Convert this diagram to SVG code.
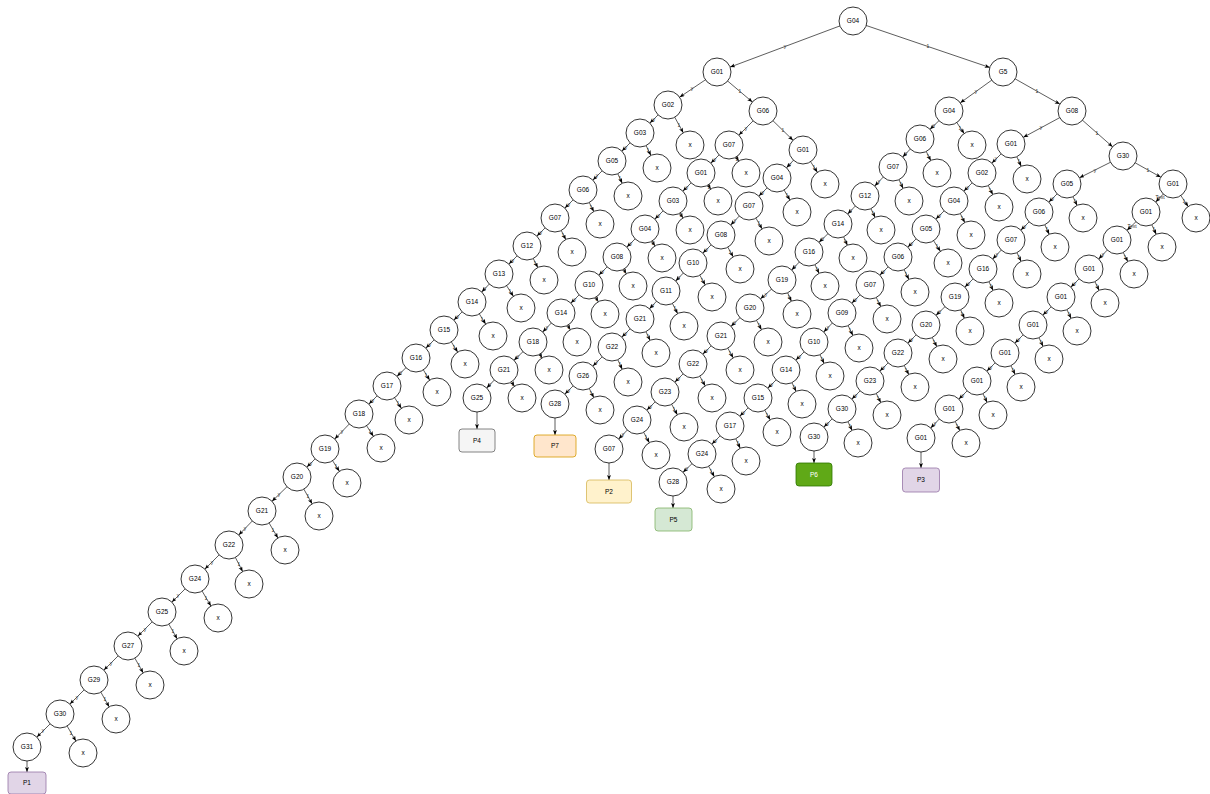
<svg xmlns="http://www.w3.org/2000/svg" width="1210" height="794" viewBox="0 0 1210 794">
<style>
.c{fill:#fff;stroke:#000;stroke-width:0.8}
.t{font-family:"Liberation Sans",Arial,sans-serif;font-size:6.5px;text-anchor:middle;fill:#000}
.e{stroke:#333;stroke-width:0.8;fill:none;marker-end:url(#a)}
.ep{stroke:#333;stroke-width:0.8;fill:none;marker-end:url(#ap)}
.l{font-family:"Liberation Sans",Arial,sans-serif;font-size:5px;text-anchor:middle;fill:#333}
.p{stroke-width:0.8}
</style>
<defs>
<marker id="a" markerUnits="userSpaceOnUse" markerWidth="6" markerHeight="5" refX="19" refY="2" orient="auto"><path d="M0,0 L5,2 L0,4 L1.2,2 z" fill="#000"/></marker>
<marker id="ap" markerUnits="userSpaceOnUse" markerWidth="6" markerHeight="5" refX="5" refY="2" orient="auto"><path d="M0,0 L5,2 L0,4 L1.2,2 z" fill="#000"/></marker>
</defs>
<rect width="1210" height="794" fill="#fff"/>
<g id="connectors">
<line class="e" x1="853" y1="21" x2="717" y2="72"/><text class="l" x="785" y="48">y</text>
<line class="e" x1="853" y1="21" x2="1003" y2="72"/><text class="l" x="928" y="48">1</text>
<line class="e" x1="717" y1="72" x2="668" y2="105"/><text class="l" x="692" y="90">y</text>
<line class="e" x1="717" y1="72" x2="763" y2="111"/><text class="l" x="740" y="93">1</text>
<line class="e" x1="668" y1="105" x2="640" y2="133"/><text class="l" x="654" y="121">y</text>
<line class="e" x1="668" y1="105" x2="690" y2="145"/><text class="l" x="679" y="127">1</text>
<line class="e" x1="763" y1="111" x2="729" y2="145"/><text class="l" x="746" y="130">y</text>
<line class="e" x1="763" y1="111" x2="803" y2="150"/><text class="l" x="783" y="132">1</text>
<line class="e" x1="729" y1="145" x2="701" y2="173"/><text class="l" x="715" y="161">y</text>
<line class="e" x1="729" y1="145" x2="746" y2="173"/><text class="l" x="737" y="161">1</text>
<line class="e" x1="1003" y1="72" x2="949" y2="111"/><text class="l" x="976" y="93">y</text>
<line class="e" x1="1003" y1="72" x2="1072" y2="111"/><text class="l" x="1037" y="93">1</text>
<line class="e" x1="949" y1="111" x2="920" y2="139"/><text class="l" x="934" y="127">y</text>
<line class="e" x1="949" y1="111" x2="972" y2="145"/><text class="l" x="960" y="130">1</text>
<line class="e" x1="1072" y1="111" x2="1011" y2="144"/><text class="l" x="1041" y="129">y</text>
<line class="e" x1="1072" y1="111" x2="1123" y2="156"/><text class="l" x="1097" y="135">1</text>
<line class="e" x1="1011" y1="144" x2="982" y2="173"/><text class="l" x="996" y="160">y</text>
<line class="e" x1="1011" y1="144" x2="1027" y2="179"/><text class="l" x="1019" y="163">1</text>
<line class="e" x1="1123" y1="156" x2="1067" y2="184"/><text class="l" x="1095" y="172">y</text>
<line class="e" x1="1123" y1="156" x2="1173" y2="184"/><text class="l" x="1148" y="172">1</text>
<line class="e" x1="1067" y1="184" x2="1039" y2="212"/><text class="l" x="1053" y="200">y</text>
<line class="e" x1="1067" y1="184" x2="1083" y2="218"/><text class="l" x="1075" y="203">1</text>
<!-- chain A -->
<line class="e" x1="640" y1="133" x2="612" y2="161"/><text class="l" x="626" y="149">y</text>
<line class="e" x1="612" y1="161" x2="583" y2="190"/><text class="l" x="597" y="177">y</text>
<line class="e" x1="583" y1="190" x2="555" y2="218"/><text class="l" x="569" y="206">y</text>
<line class="e" x1="555" y1="218" x2="527" y2="246"/><text class="l" x="541" y="234">y</text>
<line class="e" x1="527" y1="246" x2="499" y2="274"/><text class="l" x="513" y="262">y</text>
<line class="e" x1="499" y1="274" x2="472" y2="302"/><text class="l" x="485" y="290">y</text>
<line class="e" x1="472" y1="302" x2="444" y2="330"/><text class="l" x="458" y="318">y</text>
<line class="e" x1="444" y1="330" x2="416" y2="358"/><text class="l" x="430" y="346">y</text>
<line class="e" x1="416" y1="358" x2="387" y2="386"/><text class="l" x="401" y="374">y</text>
<line class="e" x1="387" y1="386" x2="359" y2="414"/><text class="l" x="373" y="402">y</text>
<line class="e" x1="359" y1="414" x2="325" y2="449"/><text class="l" x="342" y="433">y</text>
<line class="e" x1="325" y1="449" x2="297" y2="477"/><text class="l" x="311" y="465">y</text>
<line class="e" x1="297" y1="477" x2="262" y2="511"/><text class="l" x="279" y="496">y</text>
<line class="e" x1="262" y1="511" x2="229" y2="545"/><text class="l" x="245" y="530">y</text>
<line class="e" x1="229" y1="545" x2="195" y2="579"/><text class="l" x="212" y="564">y</text>
<line class="e" x1="195" y1="579" x2="162" y2="612"/><text class="l" x="178" y="597">y</text>
<line class="e" x1="162" y1="612" x2="128" y2="646"/><text class="l" x="145" y="631">y</text>
<line class="e" x1="128" y1="646" x2="94" y2="680"/><text class="l" x="111" y="665">y</text>
<line class="e" x1="94" y1="680" x2="60" y2="714"/><text class="l" x="77" y="699">y</text>
<line class="e" x1="60" y1="714" x2="27" y2="747"/><text class="l" x="43" y="732">y</text>
<line class="ep" x1="27" y1="761" x2="27" y2="772"/>
<line class="e" x1="640" y1="133" x2="657" y2="168"/><text class="l" x="648" y="152">1</text>
<line class="e" x1="612" y1="161" x2="628" y2="196"/><text class="l" x="620" y="180">1</text>
<line class="e" x1="583" y1="190" x2="600" y2="224"/><text class="l" x="591" y="209">1</text>
<line class="e" x1="555" y1="218" x2="572" y2="252"/><text class="l" x="563" y="237">1</text>
<line class="e" x1="527" y1="246" x2="544" y2="280"/><text class="l" x="535" y="265">1</text>
<line class="e" x1="499" y1="274" x2="521" y2="308"/><text class="l" x="510" y="293">1</text>
<line class="e" x1="472" y1="302" x2="493" y2="336"/><text class="l" x="482" y="321">1</text>
<line class="e" x1="444" y1="330" x2="465" y2="364"/><text class="l" x="454" y="349">1</text>
<line class="e" x1="416" y1="358" x2="437" y2="392"/><text class="l" x="426" y="377">1</text>
<line class="e" x1="387" y1="386" x2="409" y2="420"/><text class="l" x="398" y="405">1</text>
<line class="e" x1="359" y1="414" x2="381" y2="448"/><text class="l" x="370" y="433">1</text>
<line class="e" x1="325" y1="449" x2="347" y2="483"/><text class="l" x="336" y="468">1</text>
<line class="e" x1="297" y1="477" x2="319" y2="516"/><text class="l" x="308" y="498">1</text>
<line class="e" x1="262" y1="511" x2="285" y2="550"/><text class="l" x="273" y="532">1</text>
<line class="e" x1="229" y1="545" x2="249" y2="584"/><text class="l" x="239" y="566">1</text>
<line class="e" x1="195" y1="579" x2="218" y2="618"/><text class="l" x="206" y="600">1</text>
<line class="e" x1="162" y1="612" x2="184" y2="651"/><text class="l" x="173" y="633">1</text>
<line class="e" x1="128" y1="646" x2="150" y2="685"/><text class="l" x="139" y="667">1</text>
<line class="e" x1="94" y1="680" x2="116" y2="719"/><text class="l" x="105" y="701">1</text>
<line class="e" x1="60" y1="714" x2="83" y2="753"/><text class="l" x="71" y="735">1</text>
<!-- chain B -->
<line class="e" x1="701" y1="173" x2="673" y2="201"/><text class="l" x="687" y="189">y</text>
<line class="e" x1="673" y1="201" x2="645" y2="229"/><text class="l" x="659" y="217">y</text>
<line class="e" x1="645" y1="229" x2="617" y2="257"/><text class="l" x="631" y="245">y</text>
<line class="e" x1="617" y1="257" x2="589" y2="285"/><text class="l" x="603" y="273">y</text>
<line class="e" x1="589" y1="285" x2="561" y2="313"/><text class="l" x="575" y="301">y</text>
<line class="e" x1="561" y1="313" x2="533" y2="342"/><text class="l" x="547" y="329">y</text>
<line class="e" x1="533" y1="342" x2="504" y2="370"/><text class="l" x="518" y="358">y</text>
<line class="e" x1="504" y1="370" x2="477" y2="398"/><text class="l" x="490" y="386">y</text>
<line class="ep" x1="477" y1="412" x2="477" y2="429"/>
<line class="e" x1="701" y1="173" x2="718" y2="201"/><text class="l" x="709" y="189">1</text>
<line class="e" x1="673" y1="201" x2="690" y2="230"/><text class="l" x="681" y="217">1</text>
<line class="e" x1="645" y1="229" x2="662" y2="258"/><text class="l" x="653" y="245">1</text>
<line class="e" x1="617" y1="257" x2="633" y2="286"/><text class="l" x="625" y="273">1</text>
<line class="e" x1="589" y1="285" x2="605" y2="314"/><text class="l" x="597" y="301">1</text>
<line class="e" x1="561" y1="313" x2="577" y2="342"/><text class="l" x="569" y="329">1</text>
<line class="e" x1="533" y1="342" x2="549" y2="370"/><text class="l" x="541" y="358">1</text>
<line class="e" x1="504" y1="370" x2="522" y2="398"/><text class="l" x="513" y="386">1</text>
<!-- chain C -->
<line class="e" x1="803" y1="150" x2="777" y2="178"/><text class="l" x="790" y="166">y</text>
<line class="e" x1="777" y1="178" x2="749" y2="206"/><text class="l" x="763" y="194">y</text>
<line class="e" x1="749" y1="206" x2="721" y2="235"/><text class="l" x="735" y="222">y</text>
<line class="e" x1="721" y1="235" x2="693" y2="263"/><text class="l" x="707" y="251">y</text>
<line class="e" x1="693" y1="263" x2="666" y2="291"/><text class="l" x="679" y="279">y</text>
<line class="e" x1="666" y1="291" x2="640" y2="319"/><text class="l" x="653" y="307">y</text>
<line class="e" x1="640" y1="319" x2="612" y2="347"/><text class="l" x="626" y="335">y</text>
<line class="e" x1="612" y1="347" x2="583" y2="376"/><text class="l" x="597" y="363">y</text>
<line class="e" x1="583" y1="376" x2="555" y2="404"/><text class="l" x="569" y="392">y</text>
<line class="ep" x1="555" y1="418" x2="555" y2="435"/>
<line class="e" x1="803" y1="150" x2="825" y2="184"/><text class="l" x="814" y="169">1</text>
<line class="e" x1="777" y1="178" x2="797" y2="212"/><text class="l" x="787" y="197">1</text>
<line class="e" x1="749" y1="206" x2="769" y2="241"/><text class="l" x="759" y="225">1</text>
<line class="e" x1="721" y1="235" x2="740" y2="269"/><text class="l" x="730" y="254">1</text>
<line class="e" x1="693" y1="263" x2="712" y2="297"/><text class="l" x="702" y="282">1</text>
<line class="e" x1="666" y1="291" x2="684" y2="326"/><text class="l" x="675" y="310">1</text>
<line class="e" x1="640" y1="319" x2="656" y2="353"/><text class="l" x="648" y="338">1</text>
<line class="e" x1="612" y1="347" x2="628" y2="382"/><text class="l" x="620" y="366">1</text>
<line class="e" x1="583" y1="376" x2="600" y2="410"/><text class="l" x="591" y="395">1</text>
<!-- chain D -->
<line class="e" x1="920" y1="139" x2="893" y2="167"/><text class="l" x="906" y="155">y</text>
<line class="e" x1="893" y1="167" x2="865" y2="196"/><text class="l" x="879" y="183">y</text>
<line class="e" x1="865" y1="196" x2="838" y2="224"/><text class="l" x="851" y="212">y</text>
<line class="e" x1="838" y1="224" x2="809" y2="252"/><text class="l" x="823" y="240">y</text>
<line class="e" x1="809" y1="252" x2="782" y2="280"/><text class="l" x="795" y="268">y</text>
<line class="e" x1="782" y1="280" x2="750" y2="308"/><text class="l" x="766" y="296">y</text>
<line class="e" x1="750" y1="308" x2="721" y2="336"/><text class="l" x="735" y="324">y</text>
<line class="e" x1="721" y1="336" x2="693" y2="364"/><text class="l" x="707" y="352">y</text>
<line class="e" x1="693" y1="364" x2="665" y2="392"/><text class="l" x="679" y="380">y</text>
<line class="e" x1="665" y1="392" x2="637" y2="420"/><text class="l" x="651" y="408">y</text>
<line class="e" x1="637" y1="420" x2="609" y2="449"/><text class="l" x="623" y="436">y</text>
<line class="ep" x1="609" y1="463" x2="609" y2="480"/>
<line class="e" x1="920" y1="139" x2="937" y2="173"/><text class="l" x="928" y="158">1</text>
<line class="e" x1="893" y1="167" x2="909" y2="201"/><text class="l" x="901" y="186">1</text>
<line class="e" x1="865" y1="196" x2="881" y2="230"/><text class="l" x="873" y="215">1</text>
<line class="e" x1="838" y1="224" x2="853" y2="258"/><text class="l" x="845" y="243">1</text>
<line class="e" x1="809" y1="252" x2="825" y2="286"/><text class="l" x="817" y="271">1</text>
<line class="e" x1="782" y1="280" x2="797" y2="314"/><text class="l" x="789" y="299">1</text>
<line class="e" x1="750" y1="308" x2="768" y2="342"/><text class="l" x="759" y="327">1</text>
<line class="e" x1="721" y1="336" x2="740" y2="370"/><text class="l" x="730" y="355">1</text>
<line class="e" x1="693" y1="364" x2="712" y2="398"/><text class="l" x="702" y="383">1</text>
<line class="e" x1="665" y1="392" x2="684" y2="427"/><text class="l" x="674" y="411">1</text>
<line class="e" x1="637" y1="420" x2="656" y2="455"/><text class="l" x="646" y="439">1</text>
<!-- chain E -->
<line class="e" x1="982" y1="173" x2="954" y2="201"/><text class="l" x="968" y="189">y</text>
<line class="e" x1="954" y1="201" x2="926" y2="229"/><text class="l" x="940" y="217">y</text>
<line class="e" x1="926" y1="229" x2="898" y2="257"/><text class="l" x="912" y="245">y</text>
<line class="e" x1="898" y1="257" x2="870" y2="285"/><text class="l" x="884" y="273">y</text>
<line class="e" x1="870" y1="285" x2="842" y2="313"/><text class="l" x="856" y="301">y</text>
<line class="e" x1="842" y1="313" x2="814" y2="342"/><text class="l" x="828" y="329">y</text>
<line class="e" x1="814" y1="342" x2="786" y2="370"/><text class="l" x="800" y="358">y</text>
<line class="e" x1="786" y1="370" x2="758" y2="398"/><text class="l" x="772" y="386">y</text>
<line class="e" x1="758" y1="398" x2="730" y2="426"/><text class="l" x="744" y="414">y</text>
<line class="e" x1="730" y1="426" x2="702" y2="454"/><text class="l" x="716" y="442">y</text>
<line class="e" x1="702" y1="454" x2="673" y2="482"/><text class="l" x="687" y="470">y</text>
<line class="ep" x1="673" y1="496" x2="673" y2="508"/>
<line class="e" x1="982" y1="173" x2="999" y2="207"/><text class="l" x="990" y="192">1</text>
<line class="e" x1="954" y1="201" x2="971" y2="235"/><text class="l" x="962" y="220">1</text>
<line class="e" x1="926" y1="229" x2="948" y2="263"/><text class="l" x="937" y="248">1</text>
<line class="e" x1="898" y1="257" x2="915" y2="292"/><text class="l" x="906" y="276">1</text>
<line class="e" x1="870" y1="285" x2="887" y2="319"/><text class="l" x="878" y="304">1</text>
<line class="e" x1="842" y1="313" x2="859" y2="348"/><text class="l" x="850" y="332">1</text>
<line class="e" x1="814" y1="342" x2="830" y2="376"/><text class="l" x="822" y="361">1</text>
<line class="e" x1="786" y1="370" x2="802" y2="404"/><text class="l" x="794" y="389">1</text>
<line class="e" x1="758" y1="398" x2="777" y2="432"/><text class="l" x="767" y="417">1</text>
<line class="e" x1="730" y1="426" x2="746" y2="461"/><text class="l" x="738" y="445">1</text>
<line class="e" x1="702" y1="454" x2="721" y2="489"/><text class="l" x="711" y="473">1</text>
<!-- chain F -->
<line class="e" x1="1039" y1="212" x2="1011" y2="240"/><text class="l" x="1025" y="228">y</text>
<line class="e" x1="1011" y1="240" x2="983" y2="269"/><text class="l" x="997" y="256">y</text>
<line class="e" x1="983" y1="269" x2="955" y2="297"/><text class="l" x="969" y="285">y</text>
<line class="e" x1="955" y1="297" x2="926" y2="325"/><text class="l" x="940" y="313">y</text>
<line class="e" x1="926" y1="325" x2="898" y2="353"/><text class="l" x="912" y="341">y</text>
<line class="e" x1="898" y1="353" x2="870" y2="381"/><text class="l" x="884" y="369">y</text>
<line class="e" x1="870" y1="381" x2="842" y2="409"/><text class="l" x="856" y="397">y</text>
<line class="e" x1="842" y1="409" x2="814" y2="437"/><text class="l" x="828" y="425">y</text>
<line class="ep" x1="814" y1="451" x2="814" y2="463"/>
<line class="e" x1="1039" y1="212" x2="1055" y2="247"/><text class="l" x="1047" y="231">1</text>
<line class="e" x1="1011" y1="240" x2="1027" y2="274"/><text class="l" x="1019" y="259">1</text>
<line class="e" x1="983" y1="269" x2="999" y2="303"/><text class="l" x="991" y="288">1</text>
<line class="e" x1="955" y1="297" x2="970" y2="331"/><text class="l" x="962" y="316">1</text>
<line class="e" x1="926" y1="325" x2="943" y2="359"/><text class="l" x="934" y="344">1</text>
<line class="e" x1="898" y1="353" x2="915" y2="387"/><text class="l" x="906" y="372">1</text>
<line class="e" x1="870" y1="381" x2="887" y2="415"/><text class="l" x="878" y="400">1</text>
<line class="e" x1="842" y1="409" x2="858" y2="443"/><text class="l" x="850" y="428">1</text>
<!-- chain G -->
<line class="e" x1="1173" y1="184" x2="1146" y2="212"/><text class="l" x="1160" y="199">Text</text>
<line class="e" x1="1146" y1="212" x2="1117" y2="240"/><text class="l" x="1132" y="228">Text</text>
<line class="e" x1="1117" y1="240" x2="1089" y2="269"/><text class="l" x="1103" y="256">y</text>
<line class="e" x1="1089" y1="269" x2="1061" y2="297"/><text class="l" x="1075" y="285">y</text>
<line class="e" x1="1061" y1="297" x2="1033" y2="325"/><text class="l" x="1047" y="313">y</text>
<line class="e" x1="1033" y1="325" x2="1005" y2="353"/><text class="l" x="1019" y="341">y</text>
<line class="e" x1="1005" y1="353" x2="977" y2="381"/><text class="l" x="991" y="369">y</text>
<line class="e" x1="977" y1="381" x2="949" y2="409"/><text class="l" x="963" y="397">y</text>
<line class="e" x1="949" y1="409" x2="921" y2="438"/><text class="l" x="935" y="425">y</text>
<line class="ep" x1="921" y1="452" x2="921" y2="468"/>
<line class="e" x1="1173" y1="184" x2="1196" y2="218"/><text class="l" x="1184" y="203">1</text>
<line class="e" x1="1146" y1="212" x2="1162" y2="247"/><text class="l" x="1154" y="231">1</text>
<line class="e" x1="1117" y1="240" x2="1134" y2="274"/><text class="l" x="1125" y="259">1</text>
<line class="e" x1="1089" y1="269" x2="1105" y2="303"/><text class="l" x="1097" y="288">1</text>
<line class="e" x1="1061" y1="297" x2="1077" y2="331"/><text class="l" x="1069" y="316">1</text>
<line class="e" x1="1033" y1="325" x2="1049" y2="359"/><text class="l" x="1041" y="344">1</text>
<line class="e" x1="1005" y1="353" x2="1021" y2="387"/><text class="l" x="1013" y="372">1</text>
<line class="e" x1="977" y1="381" x2="993" y2="415"/><text class="l" x="985" y="400">1</text>
<line class="e" x1="949" y1="409" x2="966" y2="443"/><text class="l" x="957" y="428">1</text>
</g>
<g id="nodes">
<g id="root-g04"><circle class="c" cx="853" cy="21" r="14"/><text class="t" x="853" y="23.3">G04</text></g>
<g id="h-g01"><circle class="c" cx="717" cy="72" r="14"/><text class="t" x="717" y="74.3">G01</text></g>
<g id="h-g5"><circle class="c" cx="1003" cy="72" r="14"/><text class="t" x="1003" y="74.3">G5</text></g>
<g id="h-g02"><circle class="c" cx="668" cy="105" r="14"/><text class="t" x="668" y="107.3">G02</text></g>
<g id="h-g06"><circle class="c" cx="763" cy="111" r="14"/><text class="t" x="763" y="113.3">G06</text></g>
<g id="h-g07"><circle class="c" cx="729" cy="145" r="14"/><text class="t" x="729" y="147.3">G07</text></g>
<g id="h-g04b"><circle class="c" cx="949" cy="111" r="14"/><text class="t" x="949" y="113.3">G04</text></g>
<g id="h-g08"><circle class="c" cx="1072" cy="111" r="14"/><text class="t" x="1072" y="113.3">G08</text></g>
<g id="h-g01b"><circle class="c" cx="1011" cy="144" r="14"/><text class="t" x="1011" y="146.3">G01</text></g>
<g id="h-g30"><circle class="c" cx="1123" cy="156" r="14"/><text class="t" x="1123" y="158.3">G30</text></g>
<g id="h-g05"><circle class="c" cx="1067" cy="184" r="14"/><text class="t" x="1067" y="186.3">G05</text></g>
<g id="hx1"><circle class="c" cx="690" cy="145" r="14"/><text class="t" x="690" y="147.3">x</text></g>
<g id="hx2"><circle class="c" cx="746" cy="173" r="14"/><text class="t" x="746" y="175.3">x</text></g>
<g id="hx3"><circle class="c" cx="972" cy="145" r="14"/><text class="t" x="972" y="147.3">x</text></g>
<g id="hx4"><circle class="c" cx="1027" cy="179" r="14"/><text class="t" x="1027" y="181.3">x</text></g>
<g id="hx5"><circle class="c" cx="1083" cy="218" r="14"/><text class="t" x="1083" y="220.3">x</text></g>
<!-- chain A -->
<g id="a1"><circle class="c" cx="640" cy="133" r="14"/><text class="t" x="640" y="135.3">G03</text></g>
<g id="a2"><circle class="c" cx="612" cy="161" r="14"/><text class="t" x="612" y="163.3">G05</text></g>
<g id="a3"><circle class="c" cx="583" cy="190" r="14"/><text class="t" x="583" y="192.3">G06</text></g>
<g id="a4"><circle class="c" cx="555" cy="218" r="14"/><text class="t" x="555" y="220.3">G07</text></g>
<g id="a5"><circle class="c" cx="527" cy="246" r="14"/><text class="t" x="527" y="248.3">G12</text></g>
<g id="a6"><circle class="c" cx="499" cy="274" r="14"/><text class="t" x="499" y="276.3">G13</text></g>
<g id="a7"><circle class="c" cx="472" cy="302" r="14"/><text class="t" x="472" y="304.3">G14</text></g>
<g id="a8"><circle class="c" cx="444" cy="330" r="14"/><text class="t" x="444" y="332.3">G15</text></g>
<g id="a9"><circle class="c" cx="416" cy="358" r="14"/><text class="t" x="416" y="360.3">G16</text></g>
<g id="a10"><circle class="c" cx="387" cy="386" r="14"/><text class="t" x="387" y="388.3">G17</text></g>
<g id="a11"><circle class="c" cx="359" cy="414" r="14"/><text class="t" x="359" y="416.3">G18</text></g>
<g id="a12"><circle class="c" cx="325" cy="449" r="14"/><text class="t" x="325" y="451.3">G19</text></g>
<g id="a13"><circle class="c" cx="297" cy="477" r="14"/><text class="t" x="297" y="479.3">G20</text></g>
<g id="a14"><circle class="c" cx="262" cy="511" r="14"/><text class="t" x="262" y="513.3">G21</text></g>
<g id="a15"><circle class="c" cx="229" cy="545" r="14"/><text class="t" x="229" y="547.3">G22</text></g>
<g id="a16"><circle class="c" cx="195" cy="579" r="14"/><text class="t" x="195" y="581.3">G24</text></g>
<g id="a17"><circle class="c" cx="162" cy="612" r="14"/><text class="t" x="162" y="614.3">G25</text></g>
<g id="a18"><circle class="c" cx="128" cy="646" r="14"/><text class="t" x="128" y="648.3">G27</text></g>
<g id="a19"><circle class="c" cx="94" cy="680" r="14"/><text class="t" x="94" y="682.3">G29</text></g>
<g id="a20"><circle class="c" cx="60" cy="714" r="14"/><text class="t" x="60" y="716.3">G30</text></g>
<g id="a21"><circle class="c" cx="27" cy="747" r="14"/><text class="t" x="27" y="749.3">G31</text></g>
<g id="ax1"><circle class="c" cx="657" cy="168" r="14"/><text class="t" x="657" y="170.3">x</text></g>
<g id="ax2"><circle class="c" cx="628" cy="196" r="14"/><text class="t" x="628" y="198.3">x</text></g>
<g id="ax3"><circle class="c" cx="600" cy="224" r="14"/><text class="t" x="600" y="226.3">x</text></g>
<g id="ax4"><circle class="c" cx="572" cy="252" r="14"/><text class="t" x="572" y="254.3">x</text></g>
<g id="ax5"><circle class="c" cx="544" cy="280" r="14"/><text class="t" x="544" y="282.3">x</text></g>
<g id="ax6"><circle class="c" cx="521" cy="308" r="14"/><text class="t" x="521" y="310.3">x</text></g>
<g id="ax7"><circle class="c" cx="493" cy="336" r="14"/><text class="t" x="493" y="338.3">x</text></g>
<g id="ax8"><circle class="c" cx="465" cy="364" r="14"/><text class="t" x="465" y="366.3">x</text></g>
<g id="ax9"><circle class="c" cx="437" cy="392" r="14"/><text class="t" x="437" y="394.3">x</text></g>
<g id="ax10"><circle class="c" cx="409" cy="420" r="14"/><text class="t" x="409" y="422.3">x</text></g>
<g id="ax11"><circle class="c" cx="381" cy="448" r="14"/><text class="t" x="381" y="450.3">x</text></g>
<g id="ax12"><circle class="c" cx="347" cy="483" r="14"/><text class="t" x="347" y="485.3">x</text></g>
<g id="ax13"><circle class="c" cx="319" cy="516" r="14"/><text class="t" x="319" y="518.3">x</text></g>
<g id="ax14"><circle class="c" cx="285" cy="550" r="14"/><text class="t" x="285" y="552.3">x</text></g>
<g id="ax15"><circle class="c" cx="249" cy="584" r="14"/><text class="t" x="249" y="586.3">x</text></g>
<g id="ax16"><circle class="c" cx="218" cy="618" r="14"/><text class="t" x="218" y="620.3">x</text></g>
<g id="ax17"><circle class="c" cx="184" cy="651" r="14"/><text class="t" x="184" y="653.3">x</text></g>
<g id="ax18"><circle class="c" cx="150" cy="685" r="14"/><text class="t" x="150" y="687.3">x</text></g>
<g id="ax19"><circle class="c" cx="116" cy="719" r="14"/><text class="t" x="116" y="721.3">x</text></g>
<g id="ax20"><circle class="c" cx="83" cy="753" r="14"/><text class="t" x="83" y="755.3">x</text></g>
<g id="p1"><rect class="p" x="8" y="772" width="38" height="22" rx="3" fill="#e1d5e7" stroke="#9673a6"/><text class="t" x="27" y="785.3">P1</text></g>
<!-- chain B -->
<g id="b1"><circle class="c" cx="701" cy="173" r="14"/><text class="t" x="701" y="175.3">G01</text></g>
<g id="b2"><circle class="c" cx="673" cy="201" r="14"/><text class="t" x="673" y="203.3">G03</text></g>
<g id="b3"><circle class="c" cx="645" cy="229" r="14"/><text class="t" x="645" y="231.3">G04</text></g>
<g id="b4"><circle class="c" cx="617" cy="257" r="14"/><text class="t" x="617" y="259.3">G08</text></g>
<g id="b5"><circle class="c" cx="589" cy="285" r="14"/><text class="t" x="589" y="287.3">G10</text></g>
<g id="b6"><circle class="c" cx="561" cy="313" r="14"/><text class="t" x="561" y="315.3">G14</text></g>
<g id="b7"><circle class="c" cx="533" cy="342" r="14"/><text class="t" x="533" y="344.3">G18</text></g>
<g id="b8"><circle class="c" cx="504" cy="370" r="14"/><text class="t" x="504" y="372.3">G21</text></g>
<g id="b9"><circle class="c" cx="477" cy="398" r="14"/><text class="t" x="477" y="400.3">G25</text></g>
<g id="bx1"><circle class="c" cx="718" cy="201" r="14"/><text class="t" x="718" y="203.3">x</text></g>
<g id="bx2"><circle class="c" cx="690" cy="230" r="14"/><text class="t" x="690" y="232.3">x</text></g>
<g id="bx3"><circle class="c" cx="662" cy="258" r="14"/><text class="t" x="662" y="260.3">x</text></g>
<g id="bx4"><circle class="c" cx="633" cy="286" r="14"/><text class="t" x="633" y="288.3">x</text></g>
<g id="bx5"><circle class="c" cx="605" cy="314" r="14"/><text class="t" x="605" y="316.3">x</text></g>
<g id="bx6"><circle class="c" cx="577" cy="342" r="14"/><text class="t" x="577" y="344.3">x</text></g>
<g id="bx7"><circle class="c" cx="549" cy="370" r="14"/><text class="t" x="549" y="372.3">x</text></g>
<g id="bx8"><circle class="c" cx="522" cy="398" r="14"/><text class="t" x="522" y="400.3">x</text></g>
<g id="p4"><rect class="p" x="459" y="429" width="36" height="23" rx="3" fill="#f5f5f5" stroke="#666666"/><text class="t" x="477" y="442.8">P4</text></g>
<!-- chain C -->
<g id="c1"><circle class="c" cx="803" cy="150" r="14"/><text class="t" x="803" y="152.3">G01</text></g>
<g id="c2"><circle class="c" cx="777" cy="178" r="14"/><text class="t" x="777" y="180.3">G04</text></g>
<g id="c3"><circle class="c" cx="749" cy="206" r="14"/><text class="t" x="749" y="208.3">G07</text></g>
<g id="c4"><circle class="c" cx="721" cy="235" r="14"/><text class="t" x="721" y="237.3">G08</text></g>
<g id="c5"><circle class="c" cx="693" cy="263" r="14"/><text class="t" x="693" y="265.3">G10</text></g>
<g id="c6"><circle class="c" cx="666" cy="291" r="14"/><text class="t" x="666" y="293.3">G11</text></g>
<g id="c7"><circle class="c" cx="640" cy="319" r="14"/><text class="t" x="640" y="321.3">G21</text></g>
<g id="c8"><circle class="c" cx="612" cy="347" r="14"/><text class="t" x="612" y="349.3">G22</text></g>
<g id="c9"><circle class="c" cx="583" cy="376" r="14"/><text class="t" x="583" y="378.3">G26</text></g>
<g id="c10"><circle class="c" cx="555" cy="404" r="14"/><text class="t" x="555" y="406.3">G28</text></g>
<g id="cx1"><circle class="c" cx="825" cy="184" r="14"/><text class="t" x="825" y="186.3">x</text></g>
<g id="cx2"><circle class="c" cx="797" cy="212" r="14"/><text class="t" x="797" y="214.3">x</text></g>
<g id="cx3"><circle class="c" cx="769" cy="241" r="14"/><text class="t" x="769" y="243.3">x</text></g>
<g id="cx4"><circle class="c" cx="740" cy="269" r="14"/><text class="t" x="740" y="271.3">x</text></g>
<g id="cx5"><circle class="c" cx="712" cy="297" r="14"/><text class="t" x="712" y="299.3">x</text></g>
<g id="cx6"><circle class="c" cx="684" cy="326" r="14"/><text class="t" x="684" y="328.3">x</text></g>
<g id="cx7"><circle class="c" cx="656" cy="353" r="14"/><text class="t" x="656" y="355.3">x</text></g>
<g id="cx8"><circle class="c" cx="628" cy="382" r="14"/><text class="t" x="628" y="384.3">x</text></g>
<g id="cx9"><circle class="c" cx="600" cy="410" r="14"/><text class="t" x="600" y="412.3">x</text></g>
<g id="p7"><rect class="p" x="534" y="435" width="42" height="22" rx="3" fill="#ffe6cc" stroke="#d79b00"/><text class="t" x="555" y="448.3">P7</text></g>
<!-- chain D -->
<g id="d1"><circle class="c" cx="920" cy="139" r="14"/><text class="t" x="920" y="141.3">G06</text></g>
<g id="d2"><circle class="c" cx="893" cy="167" r="14"/><text class="t" x="893" y="169.3">G07</text></g>
<g id="d3"><circle class="c" cx="865" cy="196" r="14"/><text class="t" x="865" y="198.3">G12</text></g>
<g id="d4"><circle class="c" cx="838" cy="224" r="14"/><text class="t" x="838" y="226.3">G14</text></g>
<g id="d5"><circle class="c" cx="809" cy="252" r="14"/><text class="t" x="809" y="254.3">G16</text></g>
<g id="d6"><circle class="c" cx="782" cy="280" r="14"/><text class="t" x="782" y="282.3">G19</text></g>
<g id="d7"><circle class="c" cx="750" cy="308" r="14"/><text class="t" x="750" y="310.3">G20</text></g>
<g id="d8"><circle class="c" cx="721" cy="336" r="14"/><text class="t" x="721" y="338.3">G21</text></g>
<g id="d9"><circle class="c" cx="693" cy="364" r="14"/><text class="t" x="693" y="366.3">G22</text></g>
<g id="d10"><circle class="c" cx="665" cy="392" r="14"/><text class="t" x="665" y="394.3">G23</text></g>
<g id="d11"><circle class="c" cx="637" cy="420" r="14"/><text class="t" x="637" y="422.3">G24</text></g>
<g id="d12"><circle class="c" cx="609" cy="449" r="14"/><text class="t" x="609" y="451.3">G07</text></g>
<g id="dx1"><circle class="c" cx="937" cy="173" r="14"/><text class="t" x="937" y="175.3">x</text></g>
<g id="dx2"><circle class="c" cx="909" cy="201" r="14"/><text class="t" x="909" y="203.3">x</text></g>
<g id="dx3"><circle class="c" cx="881" cy="230" r="14"/><text class="t" x="881" y="232.3">x</text></g>
<g id="dx4"><circle class="c" cx="853" cy="258" r="14"/><text class="t" x="853" y="260.3">x</text></g>
<g id="dx5"><circle class="c" cx="825" cy="286" r="14"/><text class="t" x="825" y="288.3">x</text></g>
<g id="dx6"><circle class="c" cx="797" cy="314" r="14"/><text class="t" x="797" y="316.3">x</text></g>
<g id="dx7"><circle class="c" cx="768" cy="342" r="14"/><text class="t" x="768" y="344.3">x</text></g>
<g id="dx8"><circle class="c" cx="740" cy="370" r="14"/><text class="t" x="740" y="372.3">x</text></g>
<g id="dx9"><circle class="c" cx="712" cy="398" r="14"/><text class="t" x="712" y="400.3">x</text></g>
<g id="dx10"><circle class="c" cx="684" cy="427" r="14"/><text class="t" x="684" y="429.3">x</text></g>
<g id="dx11"><circle class="c" cx="656" cy="455" r="14"/><text class="t" x="656" y="457.3">x</text></g>
<g id="p2"><rect class="p" x="586.5" y="480" width="45" height="23" rx="3" fill="#fff2cc" stroke="#d6b656"/><text class="t" x="609" y="493.8">P2</text></g>
<!-- chain E -->
<g id="e1"><circle class="c" cx="982" cy="173" r="14"/><text class="t" x="982" y="175.3">G02</text></g>
<g id="e2"><circle class="c" cx="954" cy="201" r="14"/><text class="t" x="954" y="203.3">G04</text></g>
<g id="e3"><circle class="c" cx="926" cy="229" r="14"/><text class="t" x="926" y="231.3">G05</text></g>
<g id="e4"><circle class="c" cx="898" cy="257" r="14"/><text class="t" x="898" y="259.3">G06</text></g>
<g id="e5"><circle class="c" cx="870" cy="285" r="14"/><text class="t" x="870" y="287.3">G07</text></g>
<g id="e6"><circle class="c" cx="842" cy="313" r="14"/><text class="t" x="842" y="315.3">G09</text></g>
<g id="e7"><circle class="c" cx="814" cy="342" r="14"/><text class="t" x="814" y="344.3">G10</text></g>
<g id="e8"><circle class="c" cx="786" cy="370" r="14"/><text class="t" x="786" y="372.3">G14</text></g>
<g id="e9"><circle class="c" cx="758" cy="398" r="14"/><text class="t" x="758" y="400.3">G15</text></g>
<g id="e10"><circle class="c" cx="730" cy="426" r="14"/><text class="t" x="730" y="428.3">G17</text></g>
<g id="e11"><circle class="c" cx="702" cy="454" r="14"/><text class="t" x="702" y="456.3">G24</text></g>
<g id="e12"><circle class="c" cx="673" cy="482" r="14"/><text class="t" x="673" y="484.3">G28</text></g>
<g id="ex1"><circle class="c" cx="999" cy="207" r="14"/><text class="t" x="999" y="209.3">x</text></g>
<g id="ex2"><circle class="c" cx="971" cy="235" r="14"/><text class="t" x="971" y="237.3">x</text></g>
<g id="ex3"><circle class="c" cx="948" cy="263" r="14"/><text class="t" x="948" y="265.3">x</text></g>
<g id="ex4"><circle class="c" cx="915" cy="292" r="14"/><text class="t" x="915" y="294.3">x</text></g>
<g id="ex5"><circle class="c" cx="887" cy="319" r="14"/><text class="t" x="887" y="321.3">x</text></g>
<g id="ex6"><circle class="c" cx="859" cy="348" r="14"/><text class="t" x="859" y="350.3">x</text></g>
<g id="ex7"><circle class="c" cx="830" cy="376" r="14"/><text class="t" x="830" y="378.3">x</text></g>
<g id="ex8"><circle class="c" cx="802" cy="404" r="14"/><text class="t" x="802" y="406.3">x</text></g>
<g id="ex9"><circle class="c" cx="777" cy="432" r="14"/><text class="t" x="777" y="434.3">x</text></g>
<g id="ex10"><circle class="c" cx="746" cy="461" r="14"/><text class="t" x="746" y="463.3">x</text></g>
<g id="ex11"><circle class="c" cx="721" cy="489" r="14"/><text class="t" x="721" y="491.3">x</text></g>
<g id="p5"><rect class="p" x="655" y="508" width="37" height="23" rx="3" fill="#d5e8d4" stroke="#82b366"/><text class="t" x="673.5" y="521.8">P5</text></g>
<!-- chain F -->
<g id="f1"><circle class="c" cx="1039" cy="212" r="14"/><text class="t" x="1039" y="214.3">G06</text></g>
<g id="f2"><circle class="c" cx="1011" cy="240" r="14"/><text class="t" x="1011" y="242.3">G07</text></g>
<g id="f3"><circle class="c" cx="983" cy="269" r="14"/><text class="t" x="983" y="271.3">G16</text></g>
<g id="f4"><circle class="c" cx="955" cy="297" r="14"/><text class="t" x="955" y="299.3">G19</text></g>
<g id="f5"><circle class="c" cx="926" cy="325" r="14"/><text class="t" x="926" y="327.3">G20</text></g>
<g id="f6"><circle class="c" cx="898" cy="353" r="14"/><text class="t" x="898" y="355.3">G22</text></g>
<g id="f7"><circle class="c" cx="870" cy="381" r="14"/><text class="t" x="870" y="383.3">G23</text></g>
<g id="f8"><circle class="c" cx="842" cy="409" r="14"/><text class="t" x="842" y="411.3">G30</text></g>
<g id="f9"><circle class="c" cx="814" cy="437" r="14"/><text class="t" x="814" y="439.3">G30</text></g>
<g id="fx1"><circle class="c" cx="1055" cy="247" r="14"/><text class="t" x="1055" y="249.3">x</text></g>
<g id="fx2"><circle class="c" cx="1027" cy="274" r="14"/><text class="t" x="1027" y="276.3">x</text></g>
<g id="fx3"><circle class="c" cx="999" cy="303" r="14"/><text class="t" x="999" y="305.3">x</text></g>
<g id="fx4"><circle class="c" cx="970" cy="331" r="14"/><text class="t" x="970" y="333.3">x</text></g>
<g id="fx5"><circle class="c" cx="943" cy="359" r="14"/><text class="t" x="943" y="361.3">x</text></g>
<g id="fx6"><circle class="c" cx="915" cy="387" r="14"/><text class="t" x="915" y="389.3">x</text></g>
<g id="fx7"><circle class="c" cx="887" cy="415" r="14"/><text class="t" x="887" y="417.3">x</text></g>
<g id="fx8"><circle class="c" cx="858" cy="443" r="14"/><text class="t" x="858" y="445.3">x</text></g>
<g id="p6"><rect class="p" x="796" y="463" width="36" height="23" rx="3" fill="#60a917" stroke="#2d7600"/><text class="t" x="814" y="476.8" style="fill:#fff">P6</text></g>
<!-- chain G -->
<g id="g1"><circle class="c" cx="1173" cy="184" r="14"/><text class="t" x="1173" y="186.3">G01</text></g>
<g id="g2"><circle class="c" cx="1146" cy="212" r="14"/><text class="t" x="1146" y="214.3">G01</text></g>
<g id="g3"><circle class="c" cx="1117" cy="240" r="14"/><text class="t" x="1117" y="242.3">G01</text></g>
<g id="g4"><circle class="c" cx="1089" cy="269" r="14"/><text class="t" x="1089" y="271.3">G01</text></g>
<g id="g5"><circle class="c" cx="1061" cy="297" r="14"/><text class="t" x="1061" y="299.3">G01</text></g>
<g id="g6"><circle class="c" cx="1033" cy="325" r="14"/><text class="t" x="1033" y="327.3">G01</text></g>
<g id="g7"><circle class="c" cx="1005" cy="353" r="14"/><text class="t" x="1005" y="355.3">G01</text></g>
<g id="g8"><circle class="c" cx="977" cy="381" r="14"/><text class="t" x="977" y="383.3">G01</text></g>
<g id="g9"><circle class="c" cx="949" cy="409" r="14"/><text class="t" x="949" y="411.3">G01</text></g>
<g id="g10"><circle class="c" cx="921" cy="438" r="14"/><text class="t" x="921" y="440.3">G01</text></g>
<g id="gx1"><circle class="c" cx="1196" cy="218" r="14"/><text class="t" x="1196" y="220.3">x</text></g>
<g id="gx2"><circle class="c" cx="1162" cy="247" r="14"/><text class="t" x="1162" y="249.3">x</text></g>
<g id="gx3"><circle class="c" cx="1134" cy="274" r="14"/><text class="t" x="1134" y="276.3">x</text></g>
<g id="gx4"><circle class="c" cx="1105" cy="303" r="14"/><text class="t" x="1105" y="305.3">x</text></g>
<g id="gx5"><circle class="c" cx="1077" cy="331" r="14"/><text class="t" x="1077" y="333.3">x</text></g>
<g id="gx6"><circle class="c" cx="1049" cy="359" r="14"/><text class="t" x="1049" y="361.3">x</text></g>
<g id="gx7"><circle class="c" cx="1021" cy="387" r="14"/><text class="t" x="1021" y="389.3">x</text></g>
<g id="gx8"><circle class="c" cx="993" cy="415" r="14"/><text class="t" x="993" y="417.3">x</text></g>
<g id="gx9"><circle class="c" cx="966" cy="443" r="14"/><text class="t" x="966" y="445.3">x</text></g>
<g id="p3"><rect class="p" x="902.5" y="468" width="37" height="24" rx="3" fill="#e1d5e7" stroke="#9673a6"/><text class="t" x="921" y="482.3">P3</text></g>
</g>
</svg>
